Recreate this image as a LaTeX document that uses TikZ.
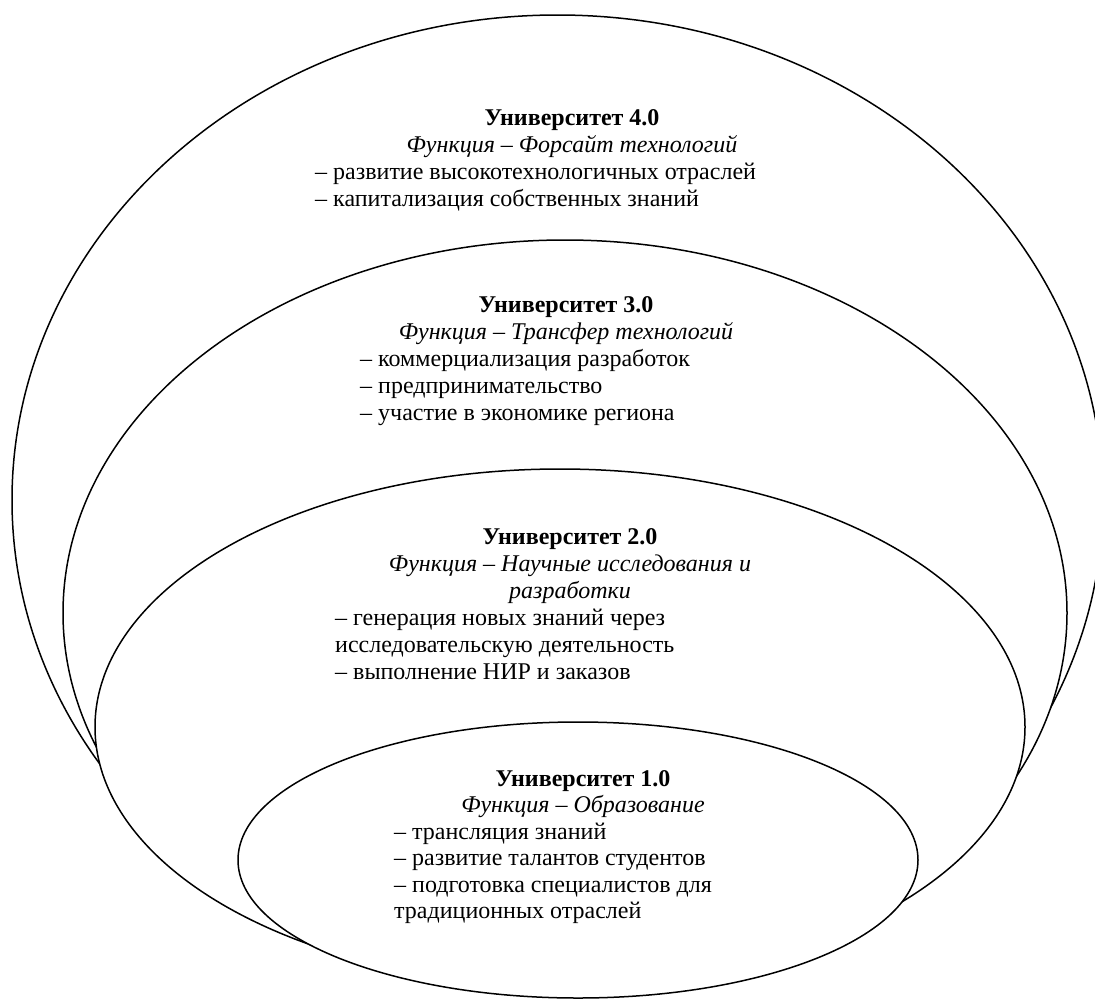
\documentclass[tikz,border=0pt]{standalone}
\usepackage{fontspec}
\setmainfont{Liberation Serif}
\usetikzlibrary{shapes.geometric}
\begin{document}
\begin{tikzpicture}[x=1pt,y=-1pt,
  oval/.style={draw, ellipse, fill=white, line width=1.5pt, inner sep=0pt, outer sep=0pt},
  ttl/.style={anchor=base, inner sep=0pt, font=\fontsize{24}{27}\selectfont\bfseries},
  fnc/.style={anchor=base, inner sep=0pt, font=\fontsize{24}{27}\selectfont\itshape},
  itm/.style={anchor=base west, inner sep=0pt, font=\fontsize{24}{27}\selectfont}]
\useasboundingbox (0,0) rectangle (1095,999);
% ellipses, outer first
\node[oval, minimum width=1091pt, minimum height=970pt] (e4) at (557.5,500) {};
\node[oval, minimum width=1004pt, minimum height=746pt] (e3) at (565,613) {};
\node[oval, minimum width=930pt, minimum height=516pt] (e2) at (560,727) {};
\node[oval, minimum width=680pt, minimum height=276pt] (e1) at (578,860) {};
% block 4
\node[ttl] (t4) at (572,125) {Университет 4.0};
\node[fnc] (f4) at (572,152) {Функция – Форсайт технологий};
\node[itm] (a4) at (315,179) {– развитие высокотехнологичных отраслей};
\node[itm] (b4) at (315,206) {– капитализация собственных знаний};
% block 3
\node[ttl] (t3) at (566,312) {Университет 3.0};
\node[fnc] (f3) at (566,339) {Функция – Трансфер технологий};
\node[itm] (a3) at (360,366) {– коммерциализация разработок};
\node[itm] (b3) at (360,393) {– предпринимательство};
\node[itm] (c3) at (360,420) {– участие в экономике региона};
% block 2
\node[ttl] (t2) at (570,544) {Университет 2.0};
\node[fnc] (f2) at (570,571) {Функция – Научные исследования и};
\node[fnc] (g2) at (570,598) {разработки};
\node[itm] (a2) at (335,625) {– генерация новых знаний через};
\node[itm] (b2) at (335,652) {исследовательскую деятельность};
\node[itm] (c2) at (335,679) {– выполнение НИР и заказов};
% block 1
\node[ttl] (t1) at (583,786) {Университет 1.0};
\node[fnc] (f1) at (583,812.5) {Функция – Образование};
\node[itm] (a1) at (394,839) {– трансляция знаний};
\node[itm] (b1) at (394,865.5) {– развитие талантов студентов};
\node[itm] (c1) at (394,892) {– подготовка специалистов для};
\node[itm] (d1) at (394,918.5) {традиционных отраслей};
\end{tikzpicture}
\end{document}
